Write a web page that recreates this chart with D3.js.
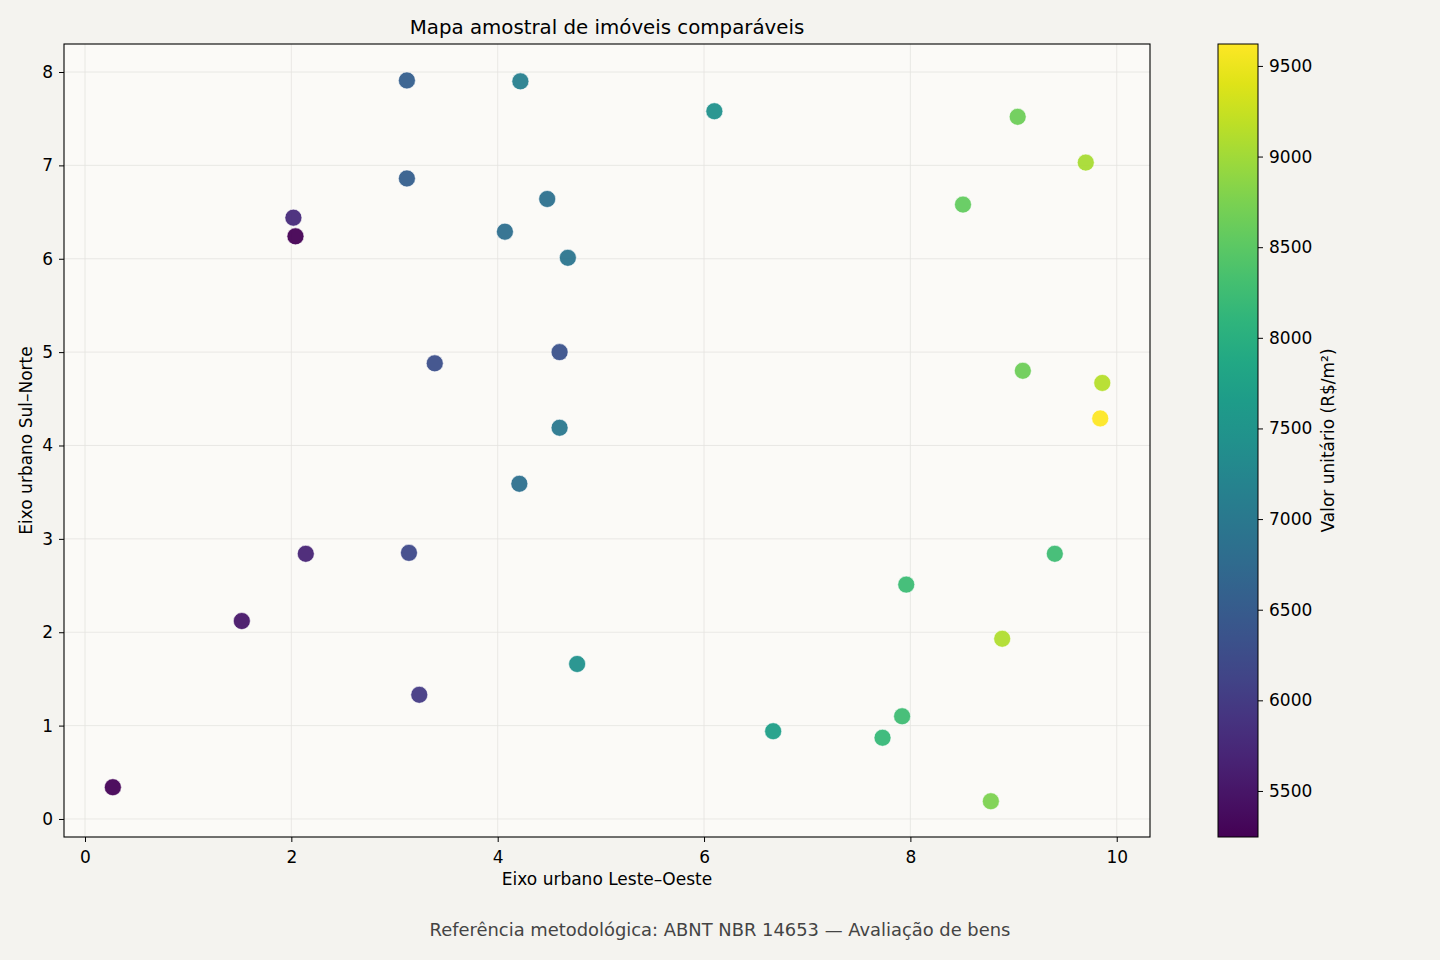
<!DOCTYPE html>
<html>
<head>
<meta charset="utf-8">
<script src="https://cdn.jsdelivr.net/npm/d3@7"></script>
<style>
  html, body { margin: 0; padding: 0; background: #f4f3ef; }
  svg { display: block; font-family: "DejaVu Sans", sans-serif; }
</style>
</head>
<body>
<div id="chart"></div>
<script>
// posição leste-oeste (km) de cada imóvel
const eixoX = [3.12, 4.22, 6.10, 3.12, 2.02, 2.04, 4.48, 4.07, 4.68, 3.39,
               4.60, 4.60, 4.21, 3.14, 4.77, 3.24, 2.14, 1.52, 0.27, 9.04,
               9.70, 8.51, 9.09, 9.86, 9.84, 9.40, 7.96, 8.89, 7.92, 6.67,
               7.73, 8.78];
// posição sul-norte
const eixoY = [7.91, 7.90, 7.58, 6.86, 6.44, 6.24, 6.64, 6.29, 6.01, 4.88,
               5.00, 4.19, 3.59, 2.85, 1.66, 1.33, 2.84, 2.12, 0.34, 7.52,
               7.03, 6.58, 4.80, 4.67, 4.29, 2.84, 2.51, 1.93, 1.10, 0.94,
               0.87, 0.19];
// valor unitário R$/m2
const valores = [6560, 7120, 7450, 6550, 5770, 5246, 6860, 6820, 6950, 6300,
                 6350, 7000, 6850, 6210, 7440, 6000, 5690, 5510, 5280, 8650,
                 9050, 8570, 8650, 9140, 9621, 8260, 8250, 9100, 8270, 7700,
                 8180, 8750];

const xTicks = [0, 2, 4, 6, 8, 10];
const yTicks = [0, 1, 2, 3, 4, 5, 6, 7, 8];
const cbTicks = [5500, 6000, 6500, 7000, 7500, 8000, 8500, 9000, 9500];

const W = 1440, H = 960;
const ax = {left: 64, right: 1150, top: 44, bottom: 837};
const cb = {left: 1218, right: 1258};
const tickFont = '17px';

const svg = d3.select('#chart').append('svg')
    .attr('width', W)
    .attr('height', H);

svg.append('rect').attr('width', W).attr('height', H).attr('fill', '#f4f3ef');

const x = d3.scaleLinear().domain([-0.2035, 10.3225]).range([ax.left, ax.right]);
const y = d3.scaleLinear().domain([-0.193, 8.30]).range([ax.bottom, ax.top]);

const ext = d3.extent(valores);
const color = d3.scaleSequential(d3.interpolateViridis).domain(ext);

// fundo dos eixos
svg.append('rect')
    .attr('x', ax.left).attr('y', ax.top)
    .attr('width', ax.right - ax.left).attr('height', ax.bottom - ax.top)
    .attr('fill', '#fbfaf7');

// grade
const grid = svg.append('g');
grid.selectAll('.gx').data(xTicks).enter().append('line')
    .attr('x1', d => x(d)).attr('x2', d => x(d))
    .attr('y1', ax.top).attr('y2', ax.bottom)
    .attr('stroke', '#e4e3e0').attr('stroke-width', 0.8);
grid.selectAll('.gy').data(yTicks).enter().append('line')
    .attr('y1', d => y(d)).attr('y2', d => y(d))
    .attr('x1', ax.left).attr('x2', ax.right)
    .attr('stroke', '#e4e3e0').attr('stroke-width', 0.8);

// pontos
svg.append('g').selectAll('circle')
    .data(valores).enter()
    .append('circle')
    .attr('cx', (d, i) => x(eixoX[i]))
    .attr('cy', (d, i) => y(eixoY[i]))
    .attr('r', 8.5)
    .attr('fill', d => color(d))
    .attr('fill-opacity', 0.95)
    .attr('stroke', '#ffffff')
    .attr('stroke-width', 0.6);

// eixos
const xAxis = svg.append('g')
    .attr('transform', `translate(0,${ax.bottom})`)
    .call(d3.axisBottom(x).tickValues(xTicks).tickSize(5).tickPadding(9).tickFormat(d3.format('d')));
const yAxis = svg.append('g')
    .attr('transform', `translate(${ax.left},0)`)
    .call(d3.axisLeft(y).tickValues(yTicks).tickSize(5).tickPadding(6).tickFormat(d3.format('d')));
[xAxis, yAxis].forEach(g => {
    g.select('.domain').remove();
    g.selectAll('.tick line').attr('stroke', '#000').attr('stroke-width', 1);
    g.selectAll('.tick text').attr('fill', '#000').style('font-size', tickFont)
        .style('font-family', '"DejaVu Sans", sans-serif');
});

svg.append('rect')
    .attr('x', ax.left).attr('y', ax.top)
    .attr('width', ax.right - ax.left).attr('height', ax.bottom - ax.top)
    .attr('fill', 'none').attr('stroke', '#000').attr('stroke-width', 1.1);

// textos
svg.append('text')
    .attr('x', (ax.left + ax.right) / 2).attr('y', 34)
    .attr('text-anchor', 'middle')
    .style('font-size', '19.8px')
    .text('Mapa amostral de imóveis comparáveis');

svg.append('text')
    .attr('x', (ax.left + ax.right) / 2).attr('y', 885)
    .attr('text-anchor', 'middle')
    .style('font-size', tickFont)
    .text('Eixo urbano Leste–Oeste');

svg.append('text')
    .attr('transform', `translate(32,${(ax.top + ax.bottom) / 2}) rotate(-90)`)
    .attr('text-anchor', 'middle')
    .style('font-size', tickFont)
    .text('Eixo urbano Sul–Norte');

svg.append('text')
    .attr('x', 720).attr('y', 936)
    .attr('text-anchor', 'middle')
    .attr('fill', '#444')
    .style('font-size', '17.9px')
    .text('Referência metodológica: ABNT NBR 14653 — Avaliação de bens');

// barra de cores
const cy = d3.scaleLinear().domain(ext).range([ax.bottom, ax.top]);
const defs = svg.append('defs');
const grad = defs.append('linearGradient')
    .attr('id', 'viridis')
    .attr('x1', 0).attr('y1', 1).attr('x2', 0).attr('y2', 0);
grad.selectAll('stop')
    .data(d3.range(0, 1.0001, 0.05)).enter()
    .append('stop')
    .attr('offset', d => d)
    .attr('stop-color', d => d3.interpolateViridis(d));

svg.append('rect')
    .attr('x', cb.left).attr('y', ax.top)
    .attr('width', cb.right - cb.left).attr('height', ax.bottom - ax.top)
    .attr('fill', 'url(#viridis)')
    .attr('stroke', '#000').attr('stroke-width', 1);

const cbAxis = svg.append('g')
    .attr('transform', `translate(${cb.right},0)`)
    .call(d3.axisRight(cy).tickValues(cbTicks).tickSize(5).tickPadding(6).tickFormat(d3.format('d')));
cbAxis.select('.domain').remove();
cbAxis.selectAll('.tick line').attr('stroke', '#000');
cbAxis.selectAll('.tick text').attr('fill', '#000').style('font-size', tickFont)
    .style('font-family', '"DejaVu Sans", sans-serif');

svg.append('text')
    .attr('transform', `translate(1334,${(ax.top + ax.bottom) / 2}) rotate(-90)`)
    .attr('text-anchor', 'middle')
    .style('font-size', tickFont)
    .text('Valor unitário (R$/m²)');
</script>
</body>
</html>
